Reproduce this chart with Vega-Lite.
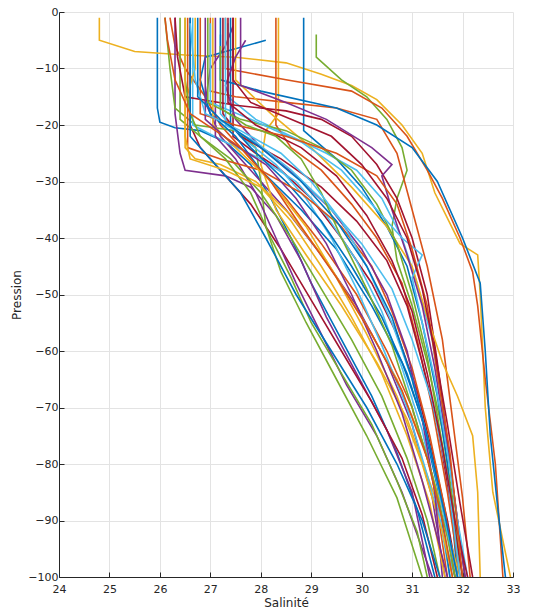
{
"$schema":"https://vega.github.io/schema/vega-lite/v6.json",
"autosize":{"type":"none"},
"padding":{"left":59,"top":12,"right":21,"bottom":38},
"width":454,"height":565,
"background":"white",
"config":{"view":{"stroke":null},"font":"DejaVu Sans"},
"data":{"values":[
{"id":"p01","s":25.95,"p":-1},{"id":"p01","s":25.95,"p":-17},{"id":"p01","s":26.0,"p":-19.5},{"id":"p01","s":26.3,"p":-20.5},{"id":"p01","s":26.8,"p":-21},{"id":"p01","s":27.3,"p":-23},{"id":"p01","s":27.8,"p":-27},{"id":"p01","s":28.2,"p":-33},{"id":"p01","s":28.6,"p":-40},{"id":"p01","s":29.0,"p":-48},{"id":"p01","s":29.6,"p":-58},{"id":"p01","s":30.2,"p":-68},{"id":"p01","s":30.7,"p":-78},{"id":"p01","s":31.1,"p":-88},{"id":"p01","s":31.45,"p":-100},
{"id":"p02","s":26.2,"p":-1},{"id":"p02","s":26.3,"p":-6},{"id":"p02","s":26.5,"p":-10},{"id":"p02","s":26.9,"p":-15},{"id":"p02","s":27.2,"p":-20},{"id":"p02","s":27.8,"p":-26},{"id":"p02","s":28.5,"p":-33},{"id":"p02","s":29.2,"p":-41},{"id":"p02","s":29.9,"p":-50},{"id":"p02","s":30.5,"p":-60},{"id":"p02","s":31.0,"p":-70},{"id":"p02","s":31.4,"p":-82},{"id":"p02","s":31.7,"p":-100},
{"id":"p03","s":24.8,"p":-1},{"id":"p03","s":24.8,"p":-5},{"id":"p03","s":25.5,"p":-7},{"id":"p03","s":26.5,"p":-7.6},{"id":"p03","s":27.5,"p":-8},{"id":"p03","s":28.5,"p":-9},{"id":"p03","s":29.2,"p":-11},{"id":"p03","s":29.8,"p":-13},{"id":"p03","s":30.3,"p":-15.5},{"id":"p03","s":30.8,"p":-20},{"id":"p03","s":31.2,"p":-25},{"id":"p03","s":31.45,"p":-32},{"id":"p03","s":31.95,"p":-41},{"id":"p03","s":32.3,"p":-43},{"id":"p03","s":32.35,"p":-50},{"id":"p03","s":32.45,"p":-70},{"id":"p03","s":32.6,"p":-85},{"id":"p03","s":32.95,"p":-100},
{"id":"p04","s":27.45,"p":-2.5},{"id":"p04","s":27.3,"p":-6},{"id":"p04","s":27.0,"p":-10},{"id":"p04","s":26.9,"p":-16},{"id":"p04","s":27.2,"p":-22},{"id":"p04","s":27.8,"p":-28},{"id":"p04","s":28.5,"p":-35},{"id":"p04","s":29.2,"p":-43},{"id":"p04","s":29.9,"p":-52},{"id":"p04","s":30.5,"p":-62},{"id":"p04","s":31.0,"p":-73},{"id":"p04","s":31.4,"p":-86},{"id":"p04","s":31.65,"p":-100},
{"id":"p05","s":29.1,"p":-4},{"id":"p05","s":29.1,"p":-8},{"id":"p05","s":29.6,"p":-12},{"id":"p05","s":30.1,"p":-15},{"id":"p05","s":30.5,"p":-19},{"id":"p05","s":30.8,"p":-24},{"id":"p05","s":30.9,"p":-28},{"id":"p05","s":30.7,"p":-33},{"id":"p05","s":30.6,"p":-38},{"id":"p05","s":30.7,"p":-44},{"id":"p05","s":31.0,"p":-52},{"id":"p05","s":31.3,"p":-62},{"id":"p05","s":31.6,"p":-74},{"id":"p05","s":31.8,"p":-86},{"id":"p05","s":31.95,"p":-100},
{"id":"p06","s":27.35,"p":-2},{"id":"p06","s":27.35,"p":-15},{"id":"p06","s":27.9,"p":-19},{"id":"p06","s":28.6,"p":-22},{"id":"p06","s":29.3,"p":-25},{"id":"p06","s":29.9,"p":-28},{"id":"p06","s":30.4,"p":-33},{"id":"p06","s":30.8,"p":-40},{"id":"p06","s":31.1,"p":-48},{"id":"p06","s":31.4,"p":-58},{"id":"p06","s":31.6,"p":-70},{"id":"p06","s":31.8,"p":-84},{"id":"p06","s":32.05,"p":-100},
{"id":"p07","s":27.45,"p":-1},{"id":"p07","s":27.45,"p":-22},{"id":"p07","s":27.9,"p":-25},{"id":"p07","s":28.4,"p":-28},{"id":"p07","s":29.0,"p":-33},{"id":"p07","s":29.6,"p":-40},{"id":"p07","s":30.2,"p":-48},{"id":"p07","s":30.7,"p":-57},{"id":"p07","s":31.1,"p":-67},{"id":"p07","s":31.4,"p":-78},{"id":"p07","s":31.7,"p":-90},{"id":"p07","s":31.9,"p":-100},
{"id":"p08","s":28.85,"p":-1},{"id":"p08","s":28.85,"p":-21},{"id":"p08","s":29.5,"p":-26},{"id":"p08","s":30.0,"p":-31},{"id":"p08","s":30.5,"p":-38},{"id":"p08","s":30.9,"p":-45},{"id":"p08","s":31.2,"p":-55},{"id":"p08","s":31.5,"p":-68},{"id":"p08","s":31.7,"p":-80},{"id":"p08","s":31.9,"p":-100},
{"id":"p09","s":27.0,"p":-1},{"id":"p09","s":27.0,"p":-14},{"id":"p09","s":27.5,"p":-15},{"id":"p09","s":28.5,"p":-16},{"id":"p09","s":29.5,"p":-17},{"id":"p09","s":30.3,"p":-19},{"id":"p09","s":30.7,"p":-25},{"id":"p09","s":31.0,"p":-35},{"id":"p09","s":31.3,"p":-45},{"id":"p09","s":31.6,"p":-58},{"id":"p09","s":31.8,"p":-72},{"id":"p09","s":32.0,"p":-86},{"id":"p09","s":32.15,"p":-100},
{"id":"p10","s":28.35,"p":-1},{"id":"p10","s":28.35,"p":-18},{"id":"p10","s":28.1,"p":-21},{"id":"p10","s":28.0,"p":-27},{"id":"p10","s":28.3,"p":-35},{"id":"p10","s":28.9,"p":-43},{"id":"p10","s":29.6,"p":-52},{"id":"p10","s":30.3,"p":-62},{"id":"p10","s":30.9,"p":-72},{"id":"p10","s":31.3,"p":-82},{"id":"p10","s":31.7,"p":-92},{"id":"p10","s":31.95,"p":-100},
{"id":"p11","s":26.3,"p":-1},{"id":"p11","s":26.3,"p":-18},{"id":"p11","s":26.4,"p":-25},{"id":"p11","s":26.5,"p":-28},{"id":"p11","s":27.3,"p":-29},{"id":"p11","s":27.8,"p":-31},{"id":"p11","s":28.3,"p":-36},{"id":"p11","s":28.8,"p":-44},{"id":"p11","s":29.3,"p":-54},{"id":"p11","s":29.9,"p":-64},{"id":"p11","s":30.5,"p":-74},{"id":"p11","s":31.0,"p":-85},{"id":"p11","s":31.35,"p":-100},
{"id":"p12","s":26.1,"p":-1},{"id":"p12","s":26.2,"p":-10},{"id":"p12","s":26.3,"p":-17},{"id":"p12","s":26.7,"p":-20},{"id":"p12","s":27.5,"p":-21},{"id":"p12","s":27.9,"p":-24},{"id":"p12","s":28.0,"p":-30},{"id":"p12","s":28.1,"p":-38},{"id":"p12","s":28.4,"p":-46},{"id":"p12","s":28.9,"p":-55},{"id":"p12","s":29.5,"p":-65},{"id":"p12","s":30.1,"p":-75},{"id":"p12","s":30.7,"p":-86},{"id":"p12","s":31.2,"p":-100},
{"id":"p13","s":26.65,"p":-1},{"id":"p13","s":26.65,"p":-20},{"id":"p13","s":27.3,"p":-23},{"id":"p13","s":28.0,"p":-26},{"id":"p13","s":28.7,"p":-30},{"id":"p13","s":29.3,"p":-36},{"id":"p13","s":29.9,"p":-44},{"id":"p13","s":30.4,"p":-53},{"id":"p13","s":30.8,"p":-63},{"id":"p13","s":31.2,"p":-74},{"id":"p13","s":31.5,"p":-87},{"id":"p13","s":31.75,"p":-100},
{"id":"p14","s":26.6,"p":-1},{"id":"p14","s":26.6,"p":-20},{"id":"p14","s":26.8,"p":-24},{"id":"p14","s":27.2,"p":-28},{"id":"p14","s":27.8,"p":-34},{"id":"p14","s":28.4,"p":-42},{"id":"p14","s":29.0,"p":-51},{"id":"p14","s":29.6,"p":-60},{"id":"p14","s":30.2,"p":-69},{"id":"p14","s":30.8,"p":-79},{"id":"p14","s":31.2,"p":-89},{"id":"p14","s":31.5,"p":-100},
{"id":"p15","s":28.1,"p":-5},{"id":"p15","s":26.9,"p":-8},{"id":"p15","s":26.8,"p":-12},{"id":"p15","s":27.0,"p":-18},{"id":"p15","s":27.5,"p":-22},{"id":"p15","s":28.0,"p":-28},{"id":"p15","s":28.8,"p":-35},{"id":"p15","s":29.5,"p":-42},{"id":"p15","s":30.2,"p":-52},{"id":"p15","s":30.8,"p":-62},{"id":"p15","s":31.2,"p":-72},{"id":"p15","s":31.5,"p":-84},{"id":"p15","s":31.75,"p":-100},
{"id":"p16","s":27.3,"p":-1},{"id":"p16","s":27.3,"p":-10},{"id":"p16","s":28.5,"p":-12},{"id":"p16","s":29.8,"p":-14},{"id":"p16","s":30.4,"p":-17},{"id":"p16","s":30.9,"p":-22},{"id":"p16","s":31.3,"p":-28},{"id":"p16","s":31.6,"p":-33},{"id":"p16","s":31.95,"p":-40},{"id":"p16","s":32.2,"p":-46},{"id":"p16","s":32.3,"p":-52},{"id":"p16","s":32.45,"p":-65},{"id":"p16","s":32.65,"p":-80},{"id":"p16","s":32.8,"p":-100},
{"id":"p17","s":26.7,"p":-1},{"id":"p17","s":26.7,"p":-10},{"id":"p17","s":26.5,"p":-16},{"id":"p17","s":26.5,"p":-24},{"id":"p17","s":26.7,"p":-26},{"id":"p17","s":27.2,"p":-27},{"id":"p17","s":27.9,"p":-30},{"id":"p17","s":28.6,"p":-36},{"id":"p17","s":29.3,"p":-44},{"id":"p17","s":30.0,"p":-54},{"id":"p17","s":30.7,"p":-65},{"id":"p17","s":31.2,"p":-76},{"id":"p17","s":31.6,"p":-88},{"id":"p17","s":31.9,"p":-100},
{"id":"p18","s":27.1,"p":-1},{"id":"p18","s":27.1,"p":-22},{"id":"p18","s":27.5,"p":-26},{"id":"p18","s":27.9,"p":-32},{"id":"p18","s":28.3,"p":-40},{"id":"p18","s":28.7,"p":-48},{"id":"p18","s":29.2,"p":-57},{"id":"p18","s":29.7,"p":-66},{"id":"p18","s":30.3,"p":-75},{"id":"p18","s":30.8,"p":-85},{"id":"p18","s":31.2,"p":-95},{"id":"p18","s":31.4,"p":-100},
{"id":"p19","s":26.4,"p":-1},{"id":"p19","s":26.4,"p":-19},{"id":"p19","s":26.8,"p":-22},{"id":"p19","s":27.4,"p":-26},{"id":"p19","s":28.0,"p":-32},{"id":"p19","s":28.6,"p":-40},{"id":"p19","s":29.2,"p":-49},{"id":"p19","s":29.8,"p":-58},{"id":"p19","s":30.4,"p":-68},{"id":"p19","s":30.9,"p":-79},{"id":"p19","s":31.3,"p":-90},{"id":"p19","s":31.55,"p":-100},
{"id":"p20","s":27.2,"p":-4},{"id":"p20","s":27.2,"p":-18},{"id":"p20","s":27.6,"p":-22},{"id":"p20","s":28.3,"p":-27},{"id":"p20","s":28.9,"p":-33},{"id":"p20","s":29.4,"p":-40},{"id":"p20","s":29.9,"p":-49},{"id":"p20","s":30.4,"p":-59},{"id":"p20","s":30.9,"p":-70},{"id":"p20","s":31.3,"p":-82},{"id":"p20","s":31.6,"p":-92},{"id":"p20","s":31.85,"p":-100},
{"id":"p21","s":26.3,"p":-1},{"id":"p21","s":26.35,"p":-8},{"id":"p21","s":26.5,"p":-15},{"id":"p21","s":27.5,"p":-16.5},{"id":"p21","s":28.5,"p":-17.5},{"id":"p21","s":29.2,"p":-19},{"id":"p21","s":29.8,"p":-22},{"id":"p21","s":30.3,"p":-27},{"id":"p21","s":30.7,"p":-33},{"id":"p21","s":31.0,"p":-40},{"id":"p21","s":31.3,"p":-50},{"id":"p21","s":31.5,"p":-62},{"id":"p21","s":31.7,"p":-76},{"id":"p21","s":31.9,"p":-90},{"id":"p21","s":32.05,"p":-100},
{"id":"p22","s":27.2,"p":-1},{"id":"p22","s":27.2,"p":-12},{"id":"p22","s":28.0,"p":-14},{"id":"p22","s":29.5,"p":-17},{"id":"p22","s":30.3,"p":-20},{"id":"p22","s":31.0,"p":-24},{"id":"p22","s":31.5,"p":-30},{"id":"p22","s":32.0,"p":-40},{"id":"p22","s":32.35,"p":-48},{"id":"p22","s":32.45,"p":-60},{"id":"p22","s":32.55,"p":-75},{"id":"p22","s":32.7,"p":-88},{"id":"p22","s":32.85,"p":-100},
{"id":"p23","s":28.3,"p":-1},{"id":"p23","s":28.3,"p":-20},{"id":"p23","s":28.6,"p":-24},{"id":"p23","s":29.2,"p":-28},{"id":"p23","s":29.8,"p":-34},{"id":"p23","s":30.3,"p":-40},{"id":"p23","s":30.8,"p":-48},{"id":"p23","s":31.1,"p":-58},{"id":"p23","s":31.4,"p":-70},{"id":"p23","s":31.7,"p":-85},{"id":"p23","s":31.95,"p":-100},
{"id":"p24","s":27.5,"p":-1},{"id":"p24","s":27.5,"p":-12},{"id":"p24","s":28.2,"p":-18},{"id":"p24","s":29.0,"p":-24},{"id":"p24","s":29.8,"p":-31},{"id":"p24","s":30.5,"p":-38},{"id":"p24","s":31.0,"p":-45},{"id":"p24","s":31.3,"p":-54},{"id":"p24","s":31.6,"p":-62},{"id":"p24","s":31.9,"p":-68},{"id":"p24","s":32.2,"p":-75},{"id":"p24","s":32.3,"p":-85},{"id":"p24","s":32.35,"p":-100},
{"id":"p25","s":27.6,"p":-1},{"id":"p25","s":27.6,"p":-13},{"id":"p25","s":28.5,"p":-16},{"id":"p25","s":29.3,"p":-19},{"id":"p25","s":30.2,"p":-24},{"id":"p25","s":30.6,"p":-27},{"id":"p25","s":30.4,"p":-29},{"id":"p25","s":30.6,"p":-35},{"id":"p25","s":30.9,"p":-43},{"id":"p25","s":31.2,"p":-52},{"id":"p25","s":31.45,"p":-63},{"id":"p25","s":31.7,"p":-77},{"id":"p25","s":31.9,"p":-90},{"id":"p25","s":32.05,"p":-100},
{"id":"p26","s":26.95,"p":-1},{"id":"p26","s":26.95,"p":-16},{"id":"p26","s":27.6,"p":-19},{"id":"p26","s":28.5,"p":-21},{"id":"p26","s":29.2,"p":-24},{"id":"p26","s":29.8,"p":-28},{"id":"p26","s":30.3,"p":-34},{"id":"p26","s":30.7,"p":-41},{"id":"p26","s":31.0,"p":-50},{"id":"p26","s":31.3,"p":-61},{"id":"p26","s":31.55,"p":-74},{"id":"p26","s":31.8,"p":-87},{"id":"p26","s":32.0,"p":-100},
{"id":"p27","s":27.0,"p":-2},{"id":"p27","s":27.0,"p":-16},{"id":"p27","s":27.8,"p":-19},{"id":"p27","s":28.8,"p":-23},{"id":"p27","s":29.6,"p":-28},{"id":"p27","s":30.2,"p":-34},{"id":"p27","s":30.8,"p":-40},{"id":"p27","s":31.2,"p":-43},{"id":"p27","s":31.0,"p":-47},{"id":"p27","s":31.2,"p":-55},{"id":"p27","s":31.45,"p":-65},{"id":"p27","s":31.7,"p":-78},{"id":"p27","s":31.9,"p":-90},{"id":"p27","s":32.1,"p":-100},
{"id":"p28","s":27.25,"p":-1},{"id":"p28","s":27.25,"p":-18},{"id":"p28","s":27.6,"p":-22},{"id":"p28","s":28.4,"p":-26},{"id":"p28","s":29.2,"p":-31},{"id":"p28","s":29.9,"p":-37},{"id":"p28","s":30.5,"p":-44},{"id":"p28","s":30.9,"p":-52},{"id":"p28","s":31.2,"p":-62},{"id":"p28","s":31.5,"p":-73},{"id":"p28","s":31.75,"p":-86},{"id":"p28","s":32.0,"p":-100},
{"id":"p29","s":27.4,"p":-1},{"id":"p29","s":27.4,"p":-20},{"id":"p29","s":27.8,"p":-24},{"id":"p29","s":28.5,"p":-30},{"id":"p29","s":29.2,"p":-37},{"id":"p29","s":29.8,"p":-45},{"id":"p29","s":30.4,"p":-54},{"id":"p29","s":30.9,"p":-64},{"id":"p29","s":31.3,"p":-75},{"id":"p29","s":31.6,"p":-87},{"id":"p29","s":31.85,"p":-100},
{"id":"p30","s":26.55,"p":-1},{"id":"p30","s":26.55,"p":-24},{"id":"p30","s":27.2,"p":-26},{"id":"p30","s":28.0,"p":-28},{"id":"p30","s":28.8,"p":-32},{"id":"p30","s":29.6,"p":-38},{"id":"p30","s":30.2,"p":-45},{"id":"p30","s":30.6,"p":-53},{"id":"p30","s":31.0,"p":-63},{"id":"p30","s":31.35,"p":-75},{"id":"p30","s":31.65,"p":-88},{"id":"p30","s":31.85,"p":-100},
{"id":"p31","s":27.05,"p":-1},{"id":"p31","s":27.05,"p":-20},{"id":"p31","s":27.5,"p":-24},{"id":"p31","s":28.2,"p":-30},{"id":"p31","s":28.9,"p":-38},{"id":"p31","s":29.5,"p":-47},{"id":"p31","s":30.1,"p":-57},{"id":"p31","s":30.7,"p":-68},{"id":"p31","s":31.2,"p":-80},{"id":"p31","s":31.6,"p":-92},{"id":"p31","s":31.8,"p":-100},
{"id":"p32","s":27.7,"p":-5},{"id":"p32","s":27.5,"p":-8},{"id":"p32","s":27.3,"p":-13},{"id":"p32","s":27.5,"p":-19},{"id":"p32","s":28.0,"p":-24},{"id":"p32","s":28.7,"p":-29},{"id":"p32","s":29.4,"p":-35},{"id":"p32","s":30.0,"p":-42},{"id":"p32","s":30.5,"p":-50},{"id":"p32","s":30.9,"p":-60},{"id":"p32","s":31.2,"p":-72},{"id":"p32","s":31.45,"p":-85},{"id":"p32","s":31.6,"p":-100},
{"id":"p33","s":26.5,"p":-1},{"id":"p33","s":26.5,"p":-12},{"id":"p33","s":26.6,"p":-18},{"id":"p33","s":26.8,"p":-22},{"id":"p33","s":27.3,"p":-26},{"id":"p33","s":27.8,"p":-32},{"id":"p33","s":28.2,"p":-40},{"id":"p33","s":28.6,"p":-47},{"id":"p33","s":29.0,"p":-55},{"id":"p33","s":29.6,"p":-64},{"id":"p33","s":30.2,"p":-73},{"id":"p33","s":30.7,"p":-83},{"id":"p33","s":31.1,"p":-92},{"id":"p33","s":31.3,"p":-100},
{"id":"p34","s":27.3,"p":-1},{"id":"p34","s":27.3,"p":-20},{"id":"p34","s":27.9,"p":-23},{"id":"p34","s":28.6,"p":-28},{"id":"p34","s":29.3,"p":-34},{"id":"p34","s":30.0,"p":-41},{"id":"p34","s":30.6,"p":-49},{"id":"p34","s":31.0,"p":-58},{"id":"p34","s":31.4,"p":-69},{"id":"p34","s":31.7,"p":-82},{"id":"p34","s":31.95,"p":-100},
{"id":"p35","s":27.35,"p":-1},{"id":"p35","s":27.35,"p":-16},{"id":"p35","s":27.9,"p":-20},{"id":"p35","s":28.8,"p":-24},{"id":"p35","s":29.5,"p":-29},{"id":"p35","s":30.1,"p":-36},{"id":"p35","s":30.6,"p":-44},{"id":"p35","s":31.0,"p":-53},{"id":"p35","s":31.3,"p":-64},{"id":"p35","s":31.6,"p":-77},{"id":"p35","s":31.85,"p":-90},{"id":"p35","s":32.1,"p":-100},
{"id":"p36","s":26.6,"p":-1},{"id":"p36","s":26.6,"p":-22},{"id":"p36","s":27.0,"p":-26},{"id":"p36","s":27.6,"p":-32},{"id":"p36","s":28.1,"p":-40},{"id":"p36","s":28.7,"p":-50},{"id":"p36","s":29.4,"p":-60},{"id":"p36","s":30.1,"p":-70},{"id":"p36","s":30.7,"p":-80},{"id":"p36","s":31.2,"p":-90},{"id":"p36","s":31.55,"p":-100},
{"id":"p37","s":26.8,"p":-1},{"id":"p37","s":26.8,"p":-18},{"id":"p37","s":27.5,"p":-20},{"id":"p37","s":28.5,"p":-22},{"id":"p37","s":29.5,"p":-25},{"id":"p37","s":30.3,"p":-29},{"id":"p37","s":30.7,"p":-34},{"id":"p37","s":31.0,"p":-42},{"id":"p37","s":31.3,"p":-52},{"id":"p37","s":31.5,"p":-64},{"id":"p37","s":31.75,"p":-78},{"id":"p37","s":32.0,"p":-100},
{"id":"p38","s":26.5,"p":-1},{"id":"p38","s":26.5,"p":-22},{"id":"p38","s":26.6,"p":-26},{"id":"p38","s":27.3,"p":-28},{"id":"p38","s":28.0,"p":-31},{"id":"p38","s":28.6,"p":-37},{"id":"p38","s":29.2,"p":-45},{"id":"p38","s":29.8,"p":-54},{"id":"p38","s":30.4,"p":-64},{"id":"p38","s":30.9,"p":-75},{"id":"p38","s":31.35,"p":-87},{"id":"p38","s":31.65,"p":-100},
{"id":"p39","s":26.9,"p":-1},{"id":"p39","s":26.9,"p":-19},{"id":"p39","s":27.4,"p":-23},{"id":"p39","s":28.1,"p":-27},{"id":"p39","s":28.7,"p":-33},{"id":"p39","s":29.3,"p":-41},{"id":"p39","s":29.8,"p":-50},{"id":"p39","s":30.3,"p":-60},{"id":"p39","s":30.8,"p":-71},{"id":"p39","s":31.2,"p":-83},{"id":"p39","s":31.5,"p":-93},{"id":"p39","s":31.7,"p":-100},
{"id":"p40","s":27.2,"p":-6},{"id":"p40","s":27.2,"p":-17},{"id":"p40","s":27.7,"p":-20},{"id":"p40","s":28.3,"p":-22},{"id":"p40","s":28.8,"p":-26},{"id":"p40","s":29.2,"p":-32},{"id":"p40","s":29.6,"p":-40},{"id":"p40","s":30.1,"p":-49},{"id":"p40","s":30.6,"p":-59},{"id":"p40","s":31.0,"p":-70},{"id":"p40","s":31.4,"p":-82},{"id":"p40","s":31.7,"p":-93},{"id":"p40","s":31.85,"p":-100},
{"id":"p41","s":26.6,"p":-2},{"id":"p41","s":26.7,"p":-12},{"id":"p41","s":26.9,"p":-18},{"id":"p41","s":27.6,"p":-21},{"id":"p41","s":28.4,"p":-25},{"id":"p41","s":29.0,"p":-30},{"id":"p41","s":29.6,"p":-37},{"id":"p41","s":30.1,"p":-45},{"id":"p41","s":30.6,"p":-55},{"id":"p41","s":31.0,"p":-65},{"id":"p41","s":31.35,"p":-77},{"id":"p41","s":31.65,"p":-90},{"id":"p41","s":31.9,"p":-100},
{"id":"p42","s":27.45,"p":-1},{"id":"p42","s":27.45,"p":-12},{"id":"p42","s":27.8,"p":-16},{"id":"p42","s":28.6,"p":-19},{"id":"p42","s":29.4,"p":-22},{"id":"p42","s":30.0,"p":-27},{"id":"p42","s":30.5,"p":-33},{"id":"p42","s":30.9,"p":-40},{"id":"p42","s":31.2,"p":-49},{"id":"p42","s":31.45,"p":-60},{"id":"p42","s":31.7,"p":-73},{"id":"p42","s":31.95,"p":-87},{"id":"p42","s":32.2,"p":-100},
{"id":"p43","s":26.75,"p":-1},{"id":"p43","s":26.75,"p":-15},{"id":"p43","s":27.2,"p":-19},{"id":"p43","s":28.0,"p":-24},{"id":"p43","s":28.8,"p":-30},{"id":"p43","s":29.5,"p":-37},{"id":"p43","s":30.1,"p":-45},{"id":"p43","s":30.6,"p":-54},{"id":"p43","s":31.0,"p":-65},{"id":"p43","s":31.35,"p":-77},{"id":"p43","s":31.65,"p":-89},{"id":"p43","s":31.9,"p":-100},
{"id":"p44","s":26.1,"p":-1},{"id":"p44","s":26.15,"p":-5},{"id":"p44","s":26.3,"p":-12},{"id":"p44","s":26.6,"p":-18},{"id":"p44","s":27.1,"p":-21},{"id":"p44","s":27.6,"p":-24},{"id":"p44","s":28.2,"p":-30},{"id":"p44","s":28.8,"p":-38},{"id":"p44","s":29.5,"p":-47},{"id":"p44","s":30.2,"p":-57},{"id":"p44","s":30.8,"p":-67},{"id":"p44","s":31.3,"p":-79},{"id":"p44","s":31.6,"p":-90},{"id":"p44","s":31.8,"p":-100}
]},
"mark":{"type":"line","strokeWidth":1.6,"clip":true},
"encoding":{
"x":{"field":"s","type":"quantitative","scale":{"domain":[24,33],"nice":false,"zero":false},
"axis":{"title":"Salinité","values":[24,25,26,27,28,29,30,31,32,33],"tickSize":-5,"labelPadding":11,"labelFontSize":11,"labelColor":"#262626","titleFontSize":12,"titleFontWeight":"normal","titleColor":"#262626","titlePadding":3,"domainColor":"#262626","tickColor":"#262626","gridColor":"#e3e3e3","labelFlush":false}},
"y":{"field":"p","type":"quantitative","scale":{"domain":[-100,0],"nice":false,"zero":false},
"axis":{"title":"Pression","values":[0,-10,-20,-30,-40,-50,-60,-70,-80,-90,-100],"tickSize":-5,"labelPadding":6,"labelFontSize":11,"labelColor":"#262626","titleFontSize":12,"titleFontWeight":"normal","titleColor":"#262626","titlePadding":4,"domainColor":"#262626","tickColor":"#262626","gridColor":"#e3e3e3","labelFlush":false}},
"color":{"field":"id","type":"nominal","legend":null,"scale":{"range":["#0072BD","#D95319","#EDB120","#7E2F8E","#77AC30","#4DBEEE","#A2142F"]}},
"order":{"field":"p","sort":"descending"}
}
}
